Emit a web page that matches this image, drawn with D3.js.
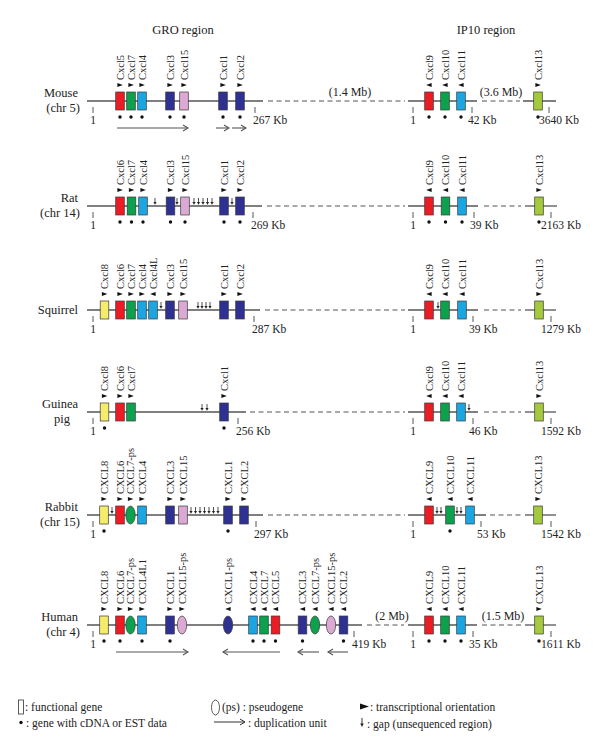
<!DOCTYPE html>
<html><head><meta charset="utf-8">
<script src="https://cdn.jsdelivr.net/npm/d3@7"></script>
<style>body{margin:0;background:#fff}svg{display:block}text{font-family:"Liberation Serif","DejaVu Serif",serif;fill:#222}</style>
</head><body><svg id="c" width="600" height="751"></svg>
<script>
// ---------- data ----------
const species = ["Mouse","Rat","Squirrel","Guinea pig","Rabbit","Human"];
const speciesLines = [["Mouse","(chr 5)"],["Rat","(chr 14)"],["Squirrel"],["Guinea","pig"],["Rabbit","(chr 15)"],["Human","(chr 4)"]];
const regionTitles = [["GRO region",183],["IP10 region",486]];
// gene: [name, family, map position, strand, cDNA/EST, pseudogene]
const mouseGenes = [["Cxcl5","red",120,1,1,0],["Cxcl7","green",131,1,1,0],["Cxcl4","blue",142,1,1,0],["Cxcl3","navy",170,1,1,0],["Cxcl15","pink",184,1,1,0],["Cxcl1","navy",223,1,1,0],["Cxcl2","navy",240,1,1,0],["Cxcl9","red",429,-1,1,0],["Cxcl10","green",445,-1,1,0],["Cxcl11","blue",461,-1,1,0],["Cxcl13","lime",538,1,1,0]];
const ratGenes = [["Cxcl6","red",120,1,1,0],["Cxcl7","green",131.5,1,1,0],["Cxcl4","blue",143,1,1,0],["Cxcl3","navy",170.5,1,1,0],["Cxcl15","pink",185,1,1,0],["Cxcl1","navy",224,1,1,0],["Cxcl2","navy",240,1,1,0],["Cxcl9","red",429,-1,1,0],["Cxcl10","green",445.5,-1,1,0],["Cxcl11","blue",462,-1,1,0],["Cxcl13","lime",539,1,1,0]];
const squirrelGenes = [["Cxcl8","yellow",104.5,1,0,0],["Cxcl6","red",120,1,0,0],["Cxcl7","green",131,1,0,0],["Cxcl4","blue",142,1,0,0],["Cxcl4L","blue",153,-1,0,0],["Cxcl3","navy",170,1,0,0],["Cxcl15","pink",183,1,0,0],["Cxcl1","navy",224,1,0,0],["Cxcl2","navy",240,1,0,0],["Cxcl9","red",429,-1,0,0],["Cxcl10","green",445,-1,0,0],["Cxcl11","blue",462,-1,0,0],["Cxcl13","lime",539,1,0,0]];
const guineaGenes = [["Cxcl8","yellow",104.5,1,1,0],["Cxcl6","red",120,1,0,0],["Cxcl7","green",131,1,0,0],["Cxcl1","navy",224,1,1,0],["Cxcl9","red",429,-1,0,0],["Cxcl10","green",445,-1,0,0],["Cxcl11","blue",461,-1,0,0],["Cxcl13","lime",539,1,0,0]];
const rabbitGenes = [["CXCL8","yellow",104,1,1,0],["CXCL6","red",120,1,0,0],["CXCL7-ps","green",130.5,1,0,1],["CXCL4","blue",142,1,0,0],["CXCL3","navy",170,1,0,0],["CXCL15","pink",183,1,0,0],["CXCL1","navy",228,1,1,0],["CXCL2","navy",244,1,0,0],["CXCL9","red",429,-1,0,0],["CXCL10","green",450,-1,1,0],["CXCL11","blue",470,-1,0,0],["CXCL13","lime",538,1,0,0]];
const humanGenes = [["CXCL8","yellow",104,1,1,0],["CXCL6","red",120,1,1,0],["CXCL7-ps","green",130.5,1,0,1],["CXCL4L1","blue",142,1,1,0],["CXCL1","navy",170,1,1,0],["CXCL15-ps","pink",182,1,0,1],["CXCL1-ps","navy",228,-1,0,1],["CXCL4","blue",253,-1,1,0],["CXCL7","green",264,-1,1,0],["CXCL5","red",275.5,-1,1,0],["CXCL3","navy",302.5,-1,1,0],["CXCL7-ps","green",315,-1,0,1],["CXCL15-ps","pink",331,-1,0,1],["CXCL2","navy",343.5,-1,1,0],["CXCL9","red",429,-1,1,0],["CXCL10","green",445,-1,1,0],["CXCL11","blue",461,-1,1,0],["CXCL13","lime",539,1,1,0]];
const genesBySpecies = [mouseGenes, ratGenes, squirrelGenes, guineaGenes, rabbitGenes, humanGenes];
// [species, from, to]
const solidSegments = [["Mouse",87,263],["Mouse",408,477],["Mouse",523,556],["Rat",87,262],["Rat",408,478],["Rat",525,557],["Squirrel",87,260],["Squirrel",408,478],["Squirrel",525,556],["Guinea pig",87,246],["Guinea pig",408,478],["Guinea pig",525,556],["Rabbit",87,263],["Rabbit",408,486],["Rabbit",525,556],["Human",87,362],["Human",408,477],["Human",525,556]];
const dashedSegments = [["Mouse",268,405],["Mouse",482,520],["Rat",267,405],["Rat",484,521],["Squirrel",265,405],["Squirrel",484,521],["Guinea pig",250,405],["Guinea pig",484,521],["Rabbit",268,405],["Rabbit",490,521],["Human",367,404],["Human",482,522]];
// [species, position, label, kind]  kind: 0 start, 1 GRO end, 2 IP10 end, 3 Cxcl13 end
const ticks = [["Mouse",93,"1",0],["Mouse",255,"267 Kb",1],["Mouse",413,"1",0],["Mouse",472,"42 Kb",2],["Mouse",549,"3640 Kb",3],
 ["Rat",93,"1",0],["Rat",253,"269 Kb",1],["Rat",413,"1",0],["Rat",474,"39 Kb",2],["Rat",551,"2163 Kb",3],
 ["Squirrel",93,"1",0],["Squirrel",254,"287 Kb",1],["Squirrel",413,"1",0],["Squirrel",473,"39 Kb",2],["Squirrel",551,"1279 Kb",3],
 ["Guinea pig",93,"1",0],["Guinea pig",238,"256 Kb",1],["Guinea pig",413,"1",0],["Guinea pig",473,"46 Kb",2],["Guinea pig",551,"1592 Kb",3],
 ["Rabbit",93,"1",0],["Rabbit",256,"297 Kb",1],["Rabbit",413,"1",0],["Rabbit",481,"53 Kb",2],["Rabbit",551,"1542 Kb",3],
 ["Human",93,"1",0],["Human",354,"419 Kb",1],["Human",413,"1",0],["Human",473,"35 Kb",2],["Human",551,"1611 Kb",3]];
// gaps (unsequenced) [species, position]
const gapMarks = [["Rat",155],["Rat",177],["Rat",194],["Rat",198.5],["Rat",203],["Rat",207.5],["Rat",212],["Rat",232],
 ["Squirrel",161],["Squirrel",198],["Squirrel",202],["Squirrel",206],["Squirrel",210],["Squirrel",438],
 ["Guinea pig",202],["Guinea pig",207],["Guinea pig",469],
 ["Rabbit",112],["Rabbit",191],["Rabbit",195.5],["Rabbit",200],["Rabbit",204.5],["Rabbit",209],["Rabbit",213.5],["Rabbit",218],["Rabbit",437],["Rabbit",441],["Rabbit",457],["Rabbit",461]];
// duplication units [species, from, to]
const dupUnits = [["Mouse",117,188],["Mouse",216,229],["Mouse",232,246],["Human",116,188],["Human",280,223],["Human",319,298],["Human",348,328]];
// distances between regions [species, position, label]
const distances = [["Mouse",350,"(1.4 Mb)"],["Mouse",501,"(3.6 Mb)"],["Human",392,"(2 Mb)"],["Human",503,"(1.5 Mb)"]];
const familyColors = {yellow:"#f4ec6a",red:"#ec1c24",green:"#0ca14c",blue:"#1ba6e1",navy:"#2e3192",pink:"#dba9d3",lime:"#a4c93d"};

// ---------- scales ----------
const svg = d3.select("#c");
const x = d3.scaleLinear().domain([0,600]).range([0,600]);
const y = d3.scaleOrdinal().domain(species).range([101,206,310,412,515,625]);
const color = d3.scaleOrdinal().domain(Object.keys(familyColors)).range(Object.values(familyColors));
const LINE = "#555";

// titles
svg.selectAll("text.title").data(regionTitles).join("text").attr("class","title")
  .attr("x",d=>d[1]).attr("y",34).attr("text-anchor","middle").attr("font-size",12.5).text(d=>d[0]);

// species labels
species.forEach((s,i)=>{
  const lines = speciesLines[i];
  const g = svg.append("g");
  lines.forEach((t,j)=>{
    const centred = t === "pig";
    g.append("text").attr("x",centred?62:(j===0?78:80)).attr("y",y(s)+(lines.length===1?4:-4+j*14.5))
      .attr("text-anchor",centred?"middle":"end").attr("font-size",12.5).text(t);
  });
});

// chromosome lines
svg.selectAll("line.seg").data(solidSegments).join("line").attr("class","seg")
  .attr("x1",d=>x(d[1])).attr("x2",d=>x(d[2])).attr("y1",d=>y(d[0])).attr("y2",d=>y(d[0]))
  .attr("stroke",LINE).attr("stroke-width",1.3);
svg.selectAll("line.dash").data(dashedSegments).join("line").attr("class","dash")
  .attr("x1",d=>x(d[1])).attr("x2",d=>x(d[2])).attr("y1",d=>y(d[0])).attr("y2",d=>y(d[0]))
  .attr("stroke",LINE).attr("stroke-width",1.2).attr("stroke-dasharray","5,3.5");

// distance labels
svg.selectAll("text.dist").data(distances).join("text").attr("class","dist")
  .attr("x",d=>x(d[1])).attr("y",d=>y(d[0])-5).attr("text-anchor","middle").attr("font-size",12).text(d=>d[2]);

// ticks
const tickDx = [0,-2,-4,-10];
svg.selectAll("line.tick").data(ticks).join("line").attr("class","tick")
  .attr("x1",d=>x(d[1])).attr("x2",d=>x(d[1])).attr("y1",d=>y(d[0])+6).attr("y2",d=>y(d[0])+12)
  .attr("stroke","#444").attr("stroke-width",0.9);
svg.selectAll("text.tick").data(ticks).join("text").attr("class","tick")
  .attr("x",d=>x(d[1])+tickDx[d[3]]).attr("y",d=>y(d[0])+23)
  .attr("text-anchor",d=>d[3]===0?"middle":"start").attr("font-size",11.5).text(d=>d[2]);

// gaps
const gapG = svg.selectAll("g.gap").data(gapMarks).join("g").attr("class","gap")
  .attr("transform",d=>`translate(${x(d[1])},${y(d[0])})`);
gapG.append("line").attr("x1",0).attr("x2",0).attr("y1",-8).attr("y2",-3).attr("stroke","#222").attr("stroke-width",0.8);
gapG.append("path").attr("d","M-1.6,-4 L1.6,-4 L0,-1.3 Z").attr("fill","#222");

// duplication units
const dupG = svg.selectAll("g.dup").data(dupUnits).join("g").attr("class","dup");
dupG.append("line").attr("x1",d=>x(d[1])).attr("x2",d=>x(d[2])).attr("y1",d=>y(d[0])+27).attr("y2",d=>y(d[0])+27)
  .attr("stroke",LINE).attr("stroke-width",1.1);
dupG.append("path").attr("d",d=>{const e=x(d[2]),s=d[2]>d[1]?-1:1,yy=y(d[0])+27;return `M${e+s*5},${yy-3} L${e},${yy} L${e+s*5},${yy+3}`;})
  .attr("fill","none").attr("stroke",LINE).attr("stroke-width",1.1);

// genes
species.forEach((s,i)=>{
  const ly = y(s);
  const g = svg.append("g").selectAll("g").data(genesBySpecies[i]).join("g")
    .attr("transform",d=>`translate(${x(d[2])},${ly})`);
  g.filter(d=>!d[5]).append("rect").attr("x",-4.3).attr("y",-9).attr("width",8.6).attr("height",18)
    .attr("fill",d=>color(d[1])).attr("stroke","#3a3a3a").attr("stroke-width",0.7);
  g.filter(d=>d[5]).append("ellipse").attr("rx",4.7).attr("ry",9)
    .attr("fill",d=>color(d[1])).attr("stroke","#3a3a3a").attr("stroke-width",0.7);
  g.append("path").attr("d",d=>d[3]>0?"M-2.6,-18 L2.8,-16 L-2.6,-14 Z":"M2.6,-18 L-2.8,-16 L2.6,-14 Z").attr("fill","#111");
  g.append("text").attr("transform","translate(3.6,-21) rotate(-90)").attr("font-size",10.5).text(d=>d[0]);
  g.filter(d=>d[4]).append("circle").attr("cx",0).attr("cy",16).attr("r",1.7).attr("fill","#111");
});

// legend
const lg = svg.append("g");
lg.append("rect").attr("x",18.5).attr("y",700).attr("width",5).attr("height",14).attr("fill","#fff").attr("stroke","#333").attr("stroke-width",0.8);
lg.append("text").attr("x",25).attr("y",710.5).attr("font-size",11.5).text(": functional gene");
lg.append("circle").attr("cx",21).attr("cy",722.5).attr("r",1.7).attr("fill","#111");
lg.append("text").attr("x",26).attr("y",727).attr("font-size",11.5).text(": gene with cDNA or EST data");
lg.append("ellipse").attr("cx",215.5).attr("cy",707.5).attr("rx",4).attr("ry",7.5).attr("fill","#fff").attr("stroke","#333").attr("stroke-width",0.8);
lg.append("text").attr("x",222).attr("y",710.5).attr("font-size",11.5).text("(ps) : pseudogene");
lg.append("line").attr("x1",214).attr("x2",245).attr("y1",722).attr("y2",722).attr("stroke","#333").attr("stroke-width",1);
lg.append("path").attr("d","M240,719 L245,722 L240,725").attr("fill","none").attr("stroke","#333").attr("stroke-width",1);
lg.append("text").attr("x",248).attr("y",727).attr("font-size",11.5).text(": duplication unit");
lg.append("path").attr("d","M360,703.5 L369,706.5 L360,709.5 Z").attr("fill","#111");
lg.append("text").attr("x",370).attr("y",710.5).attr("font-size",11.5).text(": transcriptional orientation");
lg.append("line").attr("x1",362).attr("x2",362).attr("y1",718).attr("y2",725).attr("stroke","#222").attr("stroke-width",0.9);
lg.append("path").attr("d","M360.2,723.5 L363.8,723.5 L362,727 Z").attr("fill","#222");
lg.append("text").attr("x",367).attr("y",727.5).attr("font-size",11.5).text(": gap (unsequenced region)");
</script></body></html>
